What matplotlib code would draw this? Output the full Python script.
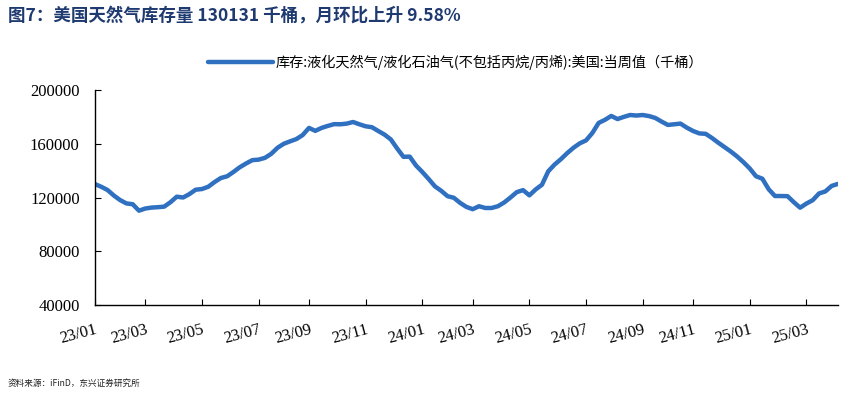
import numpy as np
import pandas as pd
import matplotlib.pyplot as plt

# tick labels in a Times-like serif; CJK texts get their own family below
plt.rcParams['font.family'] = ['Liberation Serif', 'DejaVu Serif']
CJK = ['Noto Sans CJK SC', 'DejaVu Sans']

# --- data (weekly, thousand barrels) ---
start_date = "2023-01-06"
stock = [
    130000, 128000, 125600, 121500, 118100, 115600, 115000, 110200, 111800, 112500,
    112800, 113200, 116500, 120600, 120000, 122500, 125800, 126300, 128000, 131500,
    134500, 135800, 139000, 142500, 145300, 147800, 148200, 149500, 152500, 157000,
    160000, 161800, 163500, 166500, 171800, 169600, 171800, 173300, 174600, 174500,
    175000, 176200, 174500, 173000, 172300, 169500, 166800, 163200, 156500, 150300,
    150400, 143800, 139000, 133800, 128300, 125000, 121000, 119800, 116000, 113000,
    111300, 113500, 112200, 112200, 113500, 116300, 120000, 124000, 125500, 121600,
    126000, 129500, 139500, 144500, 148500, 153000, 157000, 160300, 162500, 168000,
    175500, 177800, 180700, 178400, 180000, 181400, 181000, 181400, 180600, 179200,
    176500, 174000, 174500, 175000, 172000, 169500, 167700, 167400, 164300, 160800,
    157500, 154200, 150500, 146300, 141600, 135800, 134000, 126200, 121100, 121100,
    121000, 116500, 112400, 115500, 118000, 123000, 124500, 128600, 130131,
]
dates = pd.date_range(start_date, periods=len(stock), freq="7D")
y_ticks = [40000, 80000, 120000, 160000, 200000]

title = "图7：美国天然气库存量 130131 千桶，月环比上升 9.58%"
series_label = "库存:液化天然气/液化石油气(不包括丙烷/丙烯):美国:当周值（千桶）"
source = "资料来源：iFinD，东兴证券研究所"

LINE_COLOR = "#3070C0"

fig = plt.figure(figsize=(8.55, 3.99), dpi=100)
ax = fig.add_axes([0.111, 0.2356, 0.869, 0.5388])

ax.plot(dates, stock, color=LINE_COLOR, lw=3.2, solid_capstyle="round",
        solid_joinstyle="round", label=series_label)

for side in ["top", "right"]:
    ax.spines[side].set_visible(False)
for side in ["left", "bottom"]:
    ax.spines[side].set_color("black")
    ax.spines[side].set_linewidth(1.0)

# ticks at first observation of every odd month
s = pd.Series(dates)
firsts = s.groupby([s.dt.year, s.dt.month]).first()
tick_dates = [d for d in firsts if d.month % 2 == 1]
ax.set_xticks(tick_dates, [d.strftime("%y/%m") for d in tick_dates])
ax.set_xlim(dates[0], dates[-1])

ax.set_ylim(40000, 200000)
ax.set_yticks(y_ticks, [str(v) for v in y_ticks])

ax.tick_params(axis="both", direction="in", length=4, color="black", labelsize=12)
ax.tick_params(axis="y", pad=11)
ax.tick_params(axis="x", pad=12, labelrotation=15)
for lbl in ax.get_xticklabels():
    lbl.set_ha("right")
    lbl.set_va("top")
    lbl.set_rotation_mode("anchor")

ax.legend(loc="center", bbox_to_anchor=(0.485, 1.13), frameon=False,
          prop={'family': CJK, 'size': 10.2},
          handlelength=4.6, handletextpad=0.15, borderaxespad=0)

fig.text(0.009, 0.962, title, family=CJK, fontsize=12.6, fontweight="bold",
         color="#1F3A70", ha="left", va="center")
fig.text(0.009, 0.04, source, family=CJK, fontsize=6.2, color="#222222",
         ha="left", va="center")

fig.savefig("out.png", dpi=100)
